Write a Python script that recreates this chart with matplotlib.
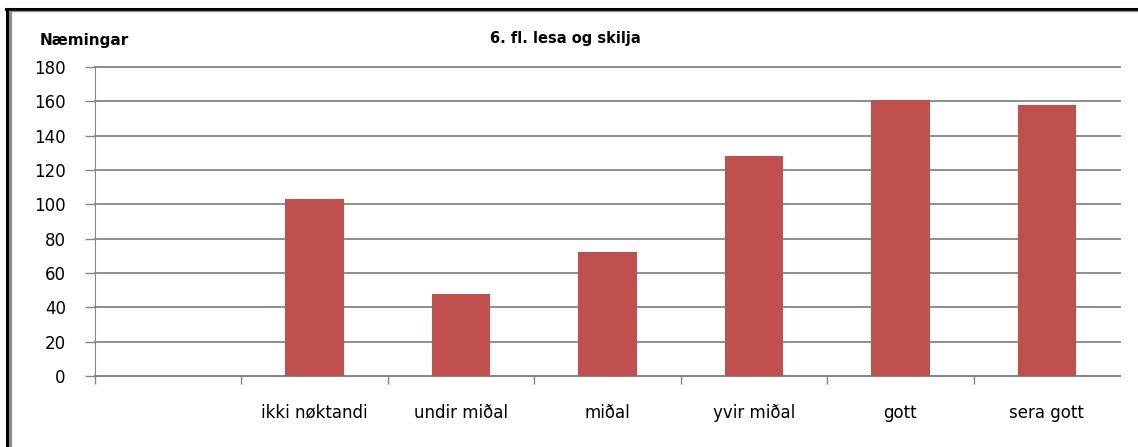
import matplotlib
matplotlib.use("Agg")
import matplotlib.pyplot as plt
from matplotlib.lines import Line2D
import numpy as np

categories = ["", "ikki nøktandi", "undir miðal", "miðal", "yvir miðal", "gott", "sera gott"]
values = [0, 103, 48, 72, 128, 161, 158]
y_ticks = [0, 20, 40, 60, 80, 100, 120, 140, 160, 180]

BAR_COLOR = "#C0504D"
GRID_COLOR = "#868686"

fig = plt.figure(figsize=(11.38, 4.47), dpi=100)
ax = fig.add_axes([95 / 1138, 1 - 376 / 447, (1120 - 95) / 1138, (376 - 67) / 447])

x = np.arange(len(categories))
ax.bar(x, values, width=0.4, color=BAR_COLOR, zorder=3)

ax.set_xlim(-0.5, len(categories) - 0.5)
ax.set_ylim(0, 180)
ax.set_yticks(y_ticks)
ax.set_yticklabels([str(v) for v in y_ticks], fontsize=12, family="DejaVu Sans")
ax.yaxis.grid(True, color=GRID_COLOR, linewidth=1.3, zorder=0)
for gl in ax.get_ygridlines():
    gl.set_clip_on(False)

ax.set_xticks(x)
ax.set_xticklabels(categories, fontsize=12, family="DejaVu Sans")
ax.set_xticks(np.arange(len(categories)) - 0.5, minor=True)
ax.tick_params(axis="x", which="major", length=0, pad=20)
ax.tick_params(axis="x", which="minor", length=6, color=GRID_COLOR, width=1)
ax.tick_params(axis="y", length=7, color=GRID_COLOR, width=1, pad=14)

for side in ["top", "right"]:
    ax.spines[side].set_visible(False)
ax.spines["left"].set_color(GRID_COLOR)
ax.spines["bottom"].set_color(GRID_COLOR)
ax.spines["bottom"].set_linewidth(1.3)

fig.text(565 / 1138, 1 - 38 / 447, "6. fl. lesa og skilja", ha="center", va="center",
         fontsize=10.5, fontweight="bold", family="DejaVu Sans")
fig.text(40 / 1138, 1 - 40 / 447, "Næmingar", ha="left", va="center",
         fontsize=11, fontweight="bold", family="DejaVu Sans")

# outer frame (left and top edges)
fig.add_artist(Line2D([7 / 1138, 7 / 1138], [0, 1 - 9 / 447], transform=fig.transFigure, color="black", linewidth=2.2))
fig.add_artist(Line2D([10 / 1138, 10 / 1138], [0, 1 - 11 / 447], transform=fig.transFigure, color="#8c8c8c", linewidth=2.2))
fig.add_artist(Line2D([6 / 1138, 1], [1 - 8.5 / 447, 1 - 8.5 / 447], transform=fig.transFigure, color="black", linewidth=2.2))
fig.add_artist(Line2D([9 / 1138, 1], [1 - 11 / 447, 1 - 11 / 447], transform=fig.transFigure, color="#8c8c8c", linewidth=1))

fig.savefig("out.png", dpi=100)
